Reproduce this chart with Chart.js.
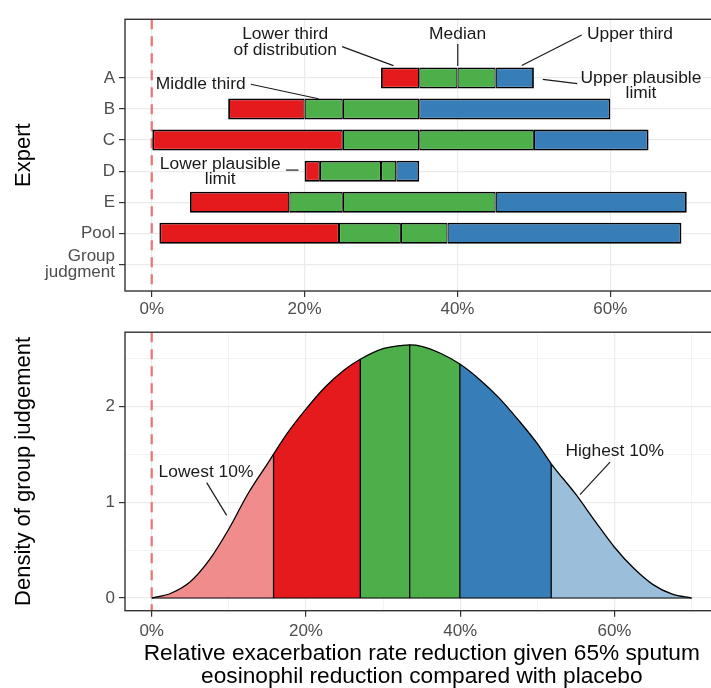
<!DOCTYPE html>
<html>
<head>
<meta charset="utf-8">
<script src="https://cdn.jsdelivr.net/npm/chart.js@4/dist/chart.umd.min.js"></script>
<style>
  html, body { margin: 0; padding: 0; background: #fff; overflow: hidden; width: 711px; height: 688px; }
  #wrap { position: relative; width: 711px; height: 688px; overflow: hidden; }
  canvas { position: absolute; left: 0; }
  #experts { top: 0; }
  #density { top: 318px; }
</style>
</head>
<body>
<div id="wrap">
  <canvas id="experts" width="720" height="318"></canvas>
  <canvas id="density" width="720" height="370"></canvas>
</div>
<script>
// Elicited judgements: plausible limits, thirds and median for each expert (%)
const experts    = ['A', 'B', 'C', 'D', 'E', 'Pool', ['Group', 'judgment']];
const lowerLimit = [30, 10, 0, 20, 5, 1];
const lowerThird = [35, 20, 25, 22, 18, 24.5];
const medians    = [40, 25, 35, 30, 25, 32.6];
const upperThird = [45, 35, 50, 32, 45, 38.7];
const upperLimit = [50, 60, 65, 35, 70, 69.3];

// Percentage axis
const pctTicks      = [0, 20, 40, 60];
const pctTickLabels = ['0%', '20%', '40%', '60%'];
const pctMinor      = [10, 30, 50, 70];

// Density of the group judgement
const densityX = [0, 2.5, 5, 7.5, 10, 12.5, 15, 15.8, 17.5, 20, 22.5, 25, 27.05, 30, 32.5, 33.45,
                  35, 37.5, 39.95, 42.5, 45, 47.5, 50, 51.8, 55, 57.5, 60, 62.5, 65, 67.5, 70];
const densityY = [0, 0.05, 0.17, 0.40, 0.72, 1.09, 1.40, 1.50, 1.71, 1.97, 2.20, 2.38, 2.49, 2.60, 2.635, 2.64,
                  2.625, 2.55, 2.44, 2.28, 2.09, 1.86, 1.61, 1.40, 1.08, 0.80, 0.53, 0.31, 0.14, 0.04, 0];
// 10th percentile, lower third, median, upper third, 90th percentile
const groupQuantiles = [15.8, 27.05, 33.45, 39.95, 51.8];
const densityTicks = [0, 1, 2];
const densityMinor = [0.5, 1.5, 2.5];

const RED = '#E41A1C', GREEN = '#4DAF4A', BLUE = '#377EB8';
const RED_LIGHT = '#F18C8D', BLUE_LIGHT = '#9BBEDB';
const GRID = '#EBEBEB', INK = '#333333', TICK_TEXT = '#4D4D4D';

Chart.defaults.font.family = '"Liberation Sans", Arial, Helvetica, sans-serif';

// Panel frame plus the dashed "no effect" line at 0%
const panelFrame = {
  id: 'panelFrame',
  beforeDatasetsDraw(chart) {
    const { ctx, chartArea: a, scales: { x } } = chart;
    const px = x.getPixelForValue(0);
    ctx.save();
    ctx.strokeStyle = 'rgba(228,26,28,0.55)';
    ctx.lineWidth = 2.4;
    ctx.setLineDash([10, 7]);
    ctx.beginPath();
    ctx.moveTo(px, a.top);
    ctx.lineTo(px, a.bottom);
    ctx.stroke();
    ctx.restore();
  },
  afterDraw(chart) {
    const { ctx, chartArea: a } = chart;
    ctx.save();
    ctx.strokeStyle = INK;
    ctx.lineWidth = 1.4;
    ctx.strokeRect(a.left, a.top, a.right - a.left, a.bottom - a.top);
    ctx.restore();
  }
};

// Text callouts with leader lines, positioned in data units
function makeCallouts(items) {
  return {
    id: 'callouts',
    afterDatasetsDraw(chart) {
      const { ctx, scales: { x, y } } = chart;
      ctx.save();
      ctx.font = '17.4px "Liberation Sans", Arial, sans-serif';
      ctx.fillStyle = '#1A1A1A';
      ctx.strokeStyle = '#1A1A1A';
      ctx.lineWidth = 1.2;
      ctx.textAlign = 'center';
      ctx.textBaseline = 'middle';
      for (const c of items) {
        const lines = [].concat(c.text);
        const cx = x.getPixelForValue(c.at[0]);
        const cy = y.getPixelForValue(c.at[1]);
        lines.forEach((t, i) => ctx.fillText(t, cx, cy + (i - (lines.length - 1) / 2) * 15.5));
        if (c.leader) {
          ctx.beginPath();
          ctx.moveTo(x.getPixelForValue(c.leader[0][0]), y.getPixelForValue(c.leader[0][1]));
          ctx.lineTo(x.getPixelForValue(c.leader[1][0]), y.getPixelForValue(c.leader[1][1]));
          ctx.stroke();
        }
      }
      ctx.restore();
    }
  };
}

const expertCallouts = [
  { text: ['Lower third', 'of distribution'], at: [17.46, -1.155], leader: [[24.91, -1.01], [31.62, -0.40]] },
  { text: 'Median', at: [40.02, -1.404], leader: [[40.04, -1.093], [40.04, -0.388]] },
  { text: 'Upper third', at: [62.57, -1.404], leader: [[56.26, -1.382], [48.41, -0.40]] },
  { text: ['Upper plausible', 'limit'], at: [64.01, 0.242], leader: [[51.16, 0.047], [55.68, 0.18]] },
  { text: 'Middle third', at: [6.41, 0.211], leader: [[12.97, 0.202], [21.81, 0.668]] },
  { text: ['Lower plausible', 'limit'], at: [8.96, 3.022], leader: [[17.55, 2.966], [19.2, 2.966]] }
];
const densityCallouts = [
  { text: 'Lowest 10%', at: [7.04, 1.314], leader: [[7.13, 1.204], [9.72, 0.862]] },
  { text: 'Highest 10%', at: [60.03, 1.534], leader: [[59.42, 1.418], [55.53, 1.078]] }
];

// One floating bar per expert for each segment of the range
function segmentBars(label, lo, hi, color, sides) {
  return {
    label,
    data: lo.map((v, i) => ({ x: [v, hi[i]], y: i })),
    backgroundColor: color,
    borderColor: '#000',
    borderWidth: { top: 1.8, bottom: 1.8, left: sides[0], right: sides[1] },
    borderSkipped: false,
    grouped: false,
    barThickness: 21,
    maxBarThickness: 21,
    inflateAmount: 0
  };
}

const majorOrMinor = (majors, major, minor) => ctx => majors.includes(ctx.tick.value) ? major : minor;

new Chart(document.getElementById('experts'), {
  type: 'bar',
  data: {
    datasets: [
      segmentBars('Lower third', lowerLimit, lowerThird, RED, [1.8, 1.2]),
      segmentBars('Middle third, below median', lowerThird, medians, GREEN, [1.2, 1.2]),
      segmentBars('Middle third, above median', medians, upperThird, GREEN, [1.2, 1.2]),
      segmentBars('Upper third', upperThird, upperLimit, BLUE, [1.2, 1.8])
    ]
  },
  options: {
    responsive: false,
    animation: false,
    indexAxis: 'y',
    layout: { padding: { top: 9.3, right: 6.5, left: 0, bottom: 0 } },
    plugins: { legend: { display: false }, tooltip: { enabled: false } },
    scales: {
      x: {
        type: 'linear', min: -3.5, max: 73.5, offset: false,
        afterBuildTicks: s => { s.ticks = pctTicks.map(v => ({ value: v })); },
        afterFit: s => { s.height = 27; },
        ticks: {
          callback: v => pctTickLabels[pctTicks.indexOf(v)] ?? '',
          color: TICK_TEXT, font: { size: 17 }, padding: 2,
          maxRotation: 0, minRotation: 0, autoSkip: false
        },
        grid: { offset: false, color: GRID, lineWidth: 1.2, tickColor: INK, tickLength: 6, tickWidth: 1.2 },
        border: { display: false }
      },
      y: {
        type: 'linear', reverse: true, min: -1.89, max: 6.86, offset: false,
        afterBuildTicks: s => { s.ticks = experts.map((_, i) => ({ value: i })); },
        afterFit: s => { s.width = 125; },
        ticks: {
          callback: v => experts[v] ?? '',
          color: TICK_TEXT, font: { size: 17, lineHeight: 0.9 }, padding: 4, autoSkip: false
        },
        grid: { offset: false, color: GRID, lineWidth: 1.2, tickColor: INK, tickLength: 6, tickWidth: 1.2 },
        border: { display: false },
        title: {
          display: true, text: 'Expert', color: '#000',
          font: { size: 22, lineHeight: 1 }, padding: { top: 13, bottom: 0 }
        }
      }
    }
  },
  plugins: [panelFrame, makeCallouts(expertCallouts)]
});

// Fill colour for each stretch of the density, split at the quantiles
const bandEdges = [groupQuantiles[0], groupQuantiles[1], groupQuantiles[3], groupQuantiles[4]];
const bandColors = [RED_LIGHT, RED, GREEN, BLUE, BLUE_LIGHT];
function bandColor(x) {
  let k = 0;
  while (k < bandEdges.length && x > bandEdges[k]) k++;
  return bandColors[k];
}
const curvePoints = densityX.map((x, i) => ({ x, y: densityY[i] }));
const heightAt = q => densityY[densityX.indexOf(q)];

const quantileLines = groupQuantiles.map(q => ({
  type: 'line',
  label: 'Quantile ' + q,
  data: [{ x: q, y: 0 }, { x: q, y: heightAt(q) }],
  borderColor: '#000', borderWidth: 1.3, pointRadius: 0, fill: false, order: 1
}));

new Chart(document.getElementById('density'), {
  type: 'line',
  data: {
    datasets: [
      {
        label: 'Group judgement',
        data: curvePoints,
        borderColor: '#000', borderWidth: 1.3, pointRadius: 0,
        cubicInterpolationMode: 'monotone',
        fill: 'origin',
        backgroundColor: RED_LIGHT,
        segment: { backgroundColor: c => bandColor((c.p0.parsed.x + c.p1.parsed.x) / 2) },
        order: 2
      },
      ...quantileLines,
      {
        label: 'Baseline',
        data: [{ x: densityX[0], y: 0 }, { x: densityX[densityX.length - 1], y: 0 }],
        borderColor: '#000', borderWidth: 1, pointRadius: 0, fill: false, order: 1
      }
    ]
  },
  options: {
    responsive: false,
    animation: false,
    layout: { padding: { top: 8, right: 1.4, left: 0, bottom: 0 } },
    plugins: { legend: { display: false }, tooltip: { enabled: false } },
    scales: {
      x: {
        type: 'linear', min: -3.46, max: 73.5,
        afterBuildTicks: s => { s.ticks = pctTicks.concat(pctMinor).sort((a, b) => a - b).map(v => ({ value: v })); },
        afterFit: s => { s.height = 77.3; },
        ticks: {
          callback: v => pctTickLabels[pctTicks.indexOf(v)] ?? '',
          color: TICK_TEXT, font: { size: 17 }, padding: 4,
          maxRotation: 0, minRotation: 0, autoSkip: false
        },
        grid: {
          color: GRID,
          lineWidth: majorOrMinor(pctTicks, 1.2, 0.6),
          tickColor: majorOrMinor(pctTicks, INK, 'rgba(0,0,0,0)'),
          tickLength: 6, tickWidth: 1.2
        },
        border: { display: false },
        title: {
          display: true,
          text: ['Relative exacerbation rate reduction given 65% sputum', 'eosinophil reduction compared with placebo'],
          color: '#000', font: { size: 22.7, lineHeight: 1.013 }, padding: { top: 0, bottom: 0 }
        }
      },
      y: {
        type: 'linear', min: -0.132, max: 2.772,
        afterBuildTicks: s => { s.ticks = densityTicks.concat(densityMinor).sort((a, b) => a - b).map(v => ({ value: v })); },
        afterFit: s => { s.width = 125; },
        ticks: {
          callback: v => densityTicks.includes(v) ? String(v) : '',
          color: TICK_TEXT, font: { size: 17 }, padding: 4, autoSkip: false
        },
        grid: {
          color: GRID,
          lineWidth: majorOrMinor(densityTicks, 1.2, 0.6),
          tickColor: majorOrMinor(densityTicks, INK, 'rgba(0,0,0,0)'),
          tickLength: 6, tickWidth: 1.2
        },
        border: { display: false },
        title: {
          display: true, text: 'Density of group judgement', color: '#000',
          font: { size: 22, lineHeight: 1 }, padding: { top: 13, bottom: 0 }
        }
      }
    }
  },
  plugins: [panelFrame, makeCallouts(densityCallouts)]
});
</script>
</body>
</html>
